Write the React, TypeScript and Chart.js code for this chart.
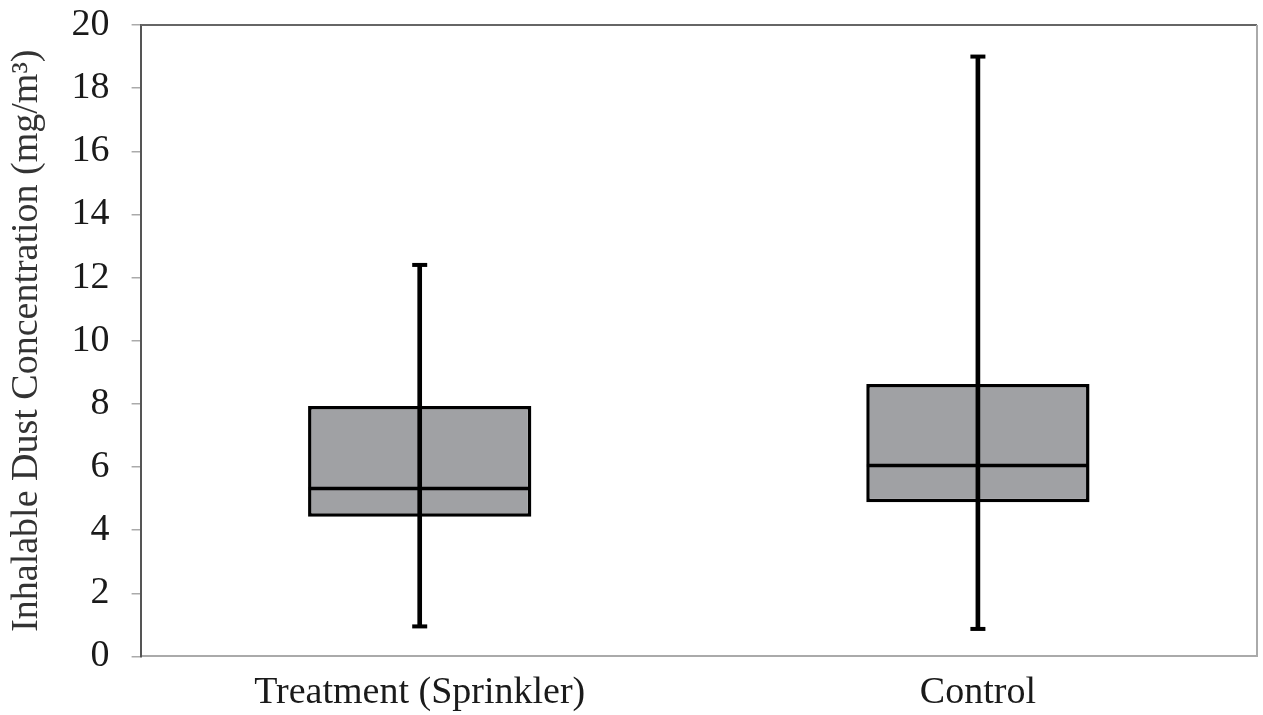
import React, { useEffect, useRef } from "react";
import { Chart, registerables } from "chart.js";

Chart.register(...registerables);

const categories = ["Treatment (Sprinkler)", "Control"];
const minValues = [0.95, 0.87];
const q1Values = [4.42, 4.88];
const medianValues = [5.32, 6.05];
const q3Values = [7.93, 8.63];
const maxValues = [12.4, 19.0];
const yTicks = [0, 2, 4, 6, 8, 10, 12, 14, 16, 18, 20];

const FONT = "'Liberation Serif', 'Times New Roman', serif";
const BOX_FILL = "#a0a1a4";

const framePlugin = {
  id: "frame",
  afterDraw(chart: any) {
    const { ctx, chartArea } = chart;
    ctx.save();
    ctx.lineWidth = 2;
    ctx.strokeStyle = "#666";
    ctx.beginPath();
    ctx.moveTo(chartArea.left, chartArea.top);
    ctx.lineTo(chartArea.right, chartArea.top);
    ctx.stroke();
    ctx.strokeStyle = "#aaa";
    ctx.beginPath();
    ctx.moveTo(chartArea.right, chartArea.top);
    ctx.lineTo(chartArea.right, chartArea.bottom);
    ctx.stroke();
    ctx.restore();
  },
};

const capDataset = (label: string, data: number[], radius: number, width: number) =>
  ({
    type: "line",
    label,
    data,
    showLine: false,
    pointStyle: "line",
    pointRadius: radius,
    pointHoverRadius: radius,
    pointBorderWidth: width,
    pointBorderColor: "#000",
    borderColor: "#000",
    clip: false,
    order: 0,
  } as any);

export default function App() {
  const ref = useRef<HTMLCanvasElement | null>(null);

  useEffect(() => {
    document.body.style.margin = "0";
    const canvas = ref.current;
    if (!canvas) return;
    const chart = new Chart(canvas, {
      type: "bar",
      data: {
        labels: categories,
        datasets: [
          {
            type: "bar",
            label: "box",
            data: categories.map((_, i) => [q1Values[i], q3Values[i]]) as any,
            backgroundColor: BOX_FILL,
            borderColor: "#000",
            borderWidth: 3.5,
            borderSkipped: false as any,
            categoryPercentage: 1,
            barPercentage: 0.4,
            grouped: false,
            order: 2,
          } as any,
          {
            type: "bar",
            label: "whisker",
            data: categories.map((_, i) => [minValues[i], maxValues[i]]) as any,
            backgroundColor: "#000",
            borderWidth: 0,
            barThickness: 4,
            grouped: false,
            order: 1,
          } as any,
          capDataset("median", medianValues, 111, 3.5),
          capDataset("maxCap", maxValues, 7.5, 4),
          capDataset("minCap", minValues, 7.5, 4),
        ],
      },
      options: {
        animation: false,
        responsive: false,
        maintainAspectRatio: false,
        layout: { autoPadding: false, padding: { top: 25, right: 6, left: 4, bottom: -15 } },
        plugins: {
          legend: { display: false },
          tooltip: { enabled: false },
        },
        scales: {
          x: {
            type: "category",
            offset: true,
            afterFit: (scale: any) => {
              scale.paddingLeft = 0;
              scale.paddingRight = 0;
            },
            grid: { display: true, drawOnChartArea: false, drawTicks: false },
            border: { display: true, color: "#aaa", width: 2 },
            ticks: {
              color: "#1a1a1a",
              padding: 14,
              font: { family: FONT, size: 38 },
            },
          },
          y: {
            type: "linear",
            min: 0,
            max: 20,
            afterBuildTicks: (axis: any) => {
              axis.ticks = yTicks.map((v) => ({ value: v }));
            },
            afterFit: (scale: any) => {
              scale.paddingTop = 0;
              scale.paddingBottom = 0;
            },
            grid: {
              display: true,
              drawOnChartArea: false,
              drawTicks: true,
              tickLength: 9,
              color: "#aaa",
              lineWidth: 1.5,
            },
            border: { display: true, color: "#555", width: 2 },
            ticks: {
              color: "#1a1a1a",
              padding: 22,
              font: { family: FONT, size: 38 },
            },
            title: {
              display: true,
              text: "Inhalable Dust Concentration (mg/m³)",
              color: "#333",
              padding: { top: 0, bottom: 0 },
              font: { family: FONT, size: 38 },
            },
          },
        },
      },
      plugins: [framePlugin],
    });
    return () => chart.destroy();
  }, []);

  return (
    <div style={{ position: "fixed", left: 0, top: 0, width: 1263, height: 715, background: "#fff" }}>
      <canvas ref={ref} width={1263} height={715} style={{ display: "block", width: 1263, height: 715 }} />
    </div>
  );
}
